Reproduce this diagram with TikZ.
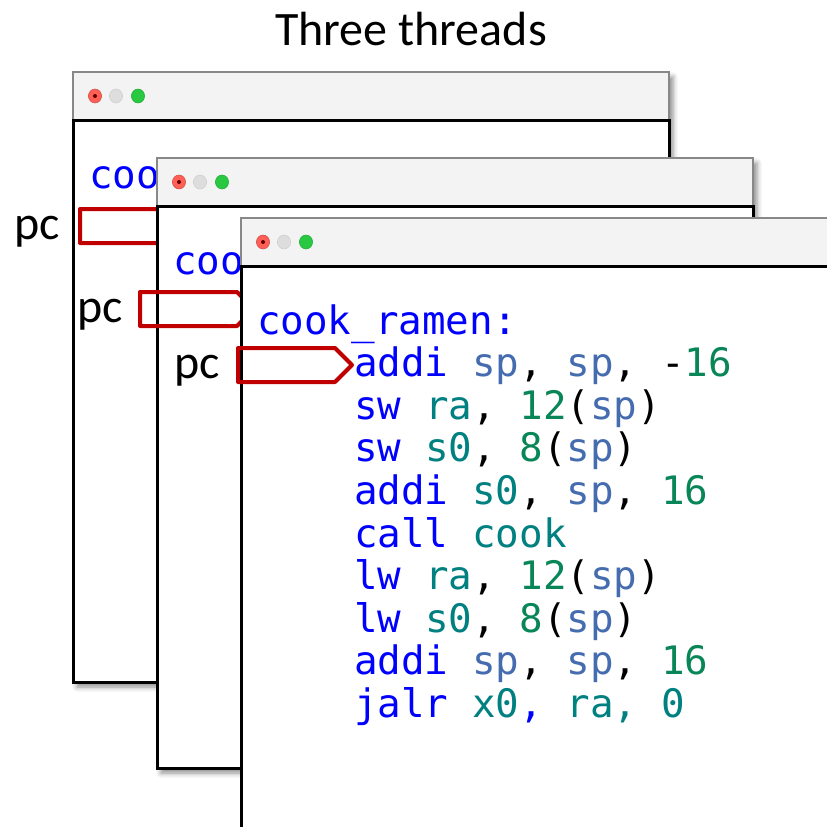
\documentclass[tikz,border=0pt]{standalone}
\usepackage{fontspec}
\setmainfont{Carlito}
\newfontfamily\codefont{DejaVu Sans Mono}
\usetikzlibrary{shadows.blur}
\definecolor{kw}{RGB}{0,0,255}
\definecolor{reg}{RGB}{0,128,128}
\definecolor{spc}{RGB}{70,108,176}
\definecolor{num}{RGB}{9,134,88}
\definecolor{tbfill}{RGB}{243,243,243}
\definecolor{tbline}{RGB}{136,136,136}
\definecolor{pcred}{RGB}{192,0,0}
\definecolor{dotred}{RGB}{255,95,87}
\definecolor{dotgray}{RGB}{221,221,221}
\definecolor{dotgreen}{RGB}{40,200,64}
\newcommand\K[1]{{\color{kw}#1}}
\newcommand\R[1]{{\color{reg}#1}}
\newcommand\SP{{\color{spc}sp}}
\newcommand\N[1]{{\color{num}#1}}
\newcommand\drawwindow[3]{%
  \begin{scope}[shift={(#1,#2)}]
    \fill[white, blur shadow={shadow xshift=4pt, shadow yshift=-5pt, shadow blur radius=5pt, shadow opacity=45}] (0,0) rectangle (596,610);
    \filldraw[fill=tbfill, draw=tbline, line width=2pt] (0,0) rectangle (596,48);
    \filldraw[fill=white, draw=black, line width=3pt] (0,48) rectangle (596,610);
    \filldraw[fill=dotred, draw=dotred!80!black, line width=0.5pt] (22,24) ellipse [x radius=6.6, y radius=7];
    \fill[black!60!red] (22,24) circle (2);
    \filldraw[fill=dotgray, draw=black!20, line width=0.5pt] (43,24) ellipse [x radius=6.6, y radius=7];
    \filldraw[fill=dotgreen, draw=dotgreen!85!black, line width=0.5pt] (65,24) ellipse [x radius=6.6, y radius=7];
  \end{scope}
  \node[codetxt] (#3label) at (#1+16,#2+116) {\K{cook\_ramen:}};
}
\tikzset{
  codetxt/.style={anchor=base west, inner sep=0pt, font=\codefont\fontsize{39.2}{40}\selectfont},
  pctxt/.style={anchor=base west, inner sep=0pt, font=\fontsize{48}{50}\selectfont},
  pcbox/.style={draw=pcred, line width=4pt, line join=round, fill=none},
}
\begin{document}
\begin{tikzpicture}[x=1pt,y=-1pt]
\useasboundingbox (0,0) rectangle (827,827);
\clip (0,0) rectangle (827,827);

\node[anchor=base, inner sep=0pt, font=\fontsize{48}{50}\selectfont] (title) at (411,45) {Three threads};

% window 1
\drawwindow{73}{72}{wa}
\draw[pcbox] (80,209) -- ++(97,0) -- ++(17,17) -- ++(-17,17) -- ++(-97,0) -- cycle;
\node[pctxt] (pca) at (14,239) {pc};

% window 2
\drawwindow{157}{158}{wb}
\draw[pcbox] (140,292) -- ++(97,0) -- ++(17,17) -- ++(-17,17) -- ++(-97,0) -- cycle;
\node[pctxt] (pcb) at (77,322) {pc};

% window 3
\drawwindow{241}{218}{wc}
\draw[pcbox] (238,348) -- ++(97,0) -- ++(17,17) -- ++(-17,17) -- ++(-97,0) -- cycle;
\node[pctxt] (pcc) at (174,378) {pc};

\node[codetxt] (l1) at (354,376) {\K{addi} \SP, \SP, -\N{16}};
\node[codetxt] (l2) at (354,419) {\K{sw} \R{ra}, \N{12}(\SP)};
\node[codetxt] (l3) at (354,461) {\K{sw} \R{s0}, \N{8}(\SP)};
\node[codetxt] (l4) at (354,504) {\K{addi} \R{s0}, \SP, \N{16}};
\node[codetxt] (l5) at (354,547) {\K{call} \R{cook}};
\node[codetxt] (l6) at (354,589) {\K{lw} \R{ra}, \N{12}(\SP)};
\node[codetxt] (l7) at (354,632) {\K{lw} \R{s0}, \N{8}(\SP)};
\node[codetxt] (l8) at (354,674) {\K{addi} \SP, \SP, \N{16}};
\node[codetxt] (l9) at (354,717) {\K{jalr} \R{x0}\K{,} \R{ra, 0}};
\end{tikzpicture}
\end{document}
